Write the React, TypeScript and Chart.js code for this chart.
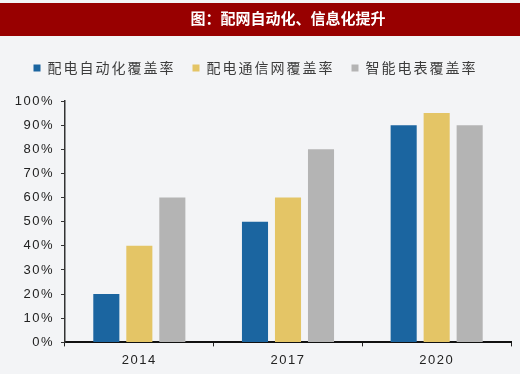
import React, { useEffect, useRef } from "react";
import { Chart, registerables } from "chart.js";

Chart.register(...registerables);

const chartTitle = "图：配网自动化、信息化提升";
const categories = ["2014", "2017", "2020"];
const seriesNames = ["配电自动化覆盖率", "配电通信网覆盖率", "智能电表覆盖率"];
const automationRate = [20, 50, 90];
const commNetworkRate = [40, 60, 95];
const smartMeterRate = [60, 80, 90];
const seriesColors = ["#1b65a0", "#e4c566", "#b4b4b4"];
const yMin = 0;
const yMax = 100;
const yStep = 10;

const BG = "#f3f4f6";
const RED = "#980000";

function patchSpacing(obj: any, method: string, spacing: string) {
  if (!obj || obj["__sp_" + method]) return;
  const orig = obj[method];
  obj[method] = function (...args: any[]) {
    const ctx = this.ctx;
    const prev = ctx.letterSpacing;
    ctx.letterSpacing = spacing;
    try {
      return orig.apply(this, args);
    } finally {
      ctx.letterSpacing = prev;
    }
  };
  obj["__sp_" + method] = true;
}

const spacingPlugin = {
  id: "letterSpacing",
  beforeLayout(chart: any) {
    patchSpacing(chart.legend, "fit", "2px");
    patchSpacing(chart.legend, "draw", "2px");
    Object.values(chart.scales || {}).forEach((s: any) => {
      patchSpacing(s, "fit", "1.5px");
      patchSpacing(s, "drawLabels", "1.5px");
    });
  },
};

const backgroundPlugin = {
  id: "bgBand",
  beforeDraw(chart: any) {
    const ctx = chart.ctx;
    ctx.save();
    ctx.fillStyle = BG;
    ctx.fillRect(0, 0, chart.width, chart.height);
    ctx.fillStyle = RED;
    const t = chart.titleBlock;
    const top = t ? t.top : 3;
    ctx.fillRect(0, top, chart.width, 33);
    ctx.restore();
  },
};

export default function App() {
  const ref = useRef<HTMLCanvasElement>(null);

  useEffect(() => {
    document.body.style.margin = "0";
    document.body.style.background = BG;
    if (!ref.current) return;
    const chart = new Chart(ref.current, {
      type: "bar",
      data: {
        labels: categories,
        datasets: [
          { label: seriesNames[0], data: automationRate, backgroundColor: seriesColors[0] },
          { label: seriesNames[1], data: commNetworkRate, backgroundColor: seriesColors[1] },
          { label: seriesNames[2], data: smartMeterRate, backgroundColor: seriesColors[2] },
        ],
      },
      options: {
        animation: false,
        responsive: false,
        devicePixelRatio: 1,
        categoryPercentage: 0.666,
        barPercentage: 0.79,
        layout: { padding: { top: 3, left: 0, right: 9, bottom: 0 } },
        plugins: {
          title: {
            display: true,
            text: chartTitle,
            color: "#ffffff",
            fullSize: false,
            font: { family: "'Noto Sans CJK SC', sans-serif", size: 15, weight: "bold" },
            padding: { top: 6, bottom: 17 },
          },
          subtitle: {
            display: true,
            text: "",
            weight: 500,
            font: { size: 10 },
            padding: { top: 0, bottom: 4 },
          } as any,
          legend: {
            display: true,
            position: "top",
            labels: {
              boxWidth: 7,
              boxHeight: 7,
              padding: 17,
              color: "#3c3c3c",
              font: { family: "'Noto Sans CJK SC', sans-serif", size: 14 },
            },
          },
          tooltip: { enabled: false },
        },
        scales: {
          x: {
            grid: {
              display: true,
              drawOnChartArea: false,
              drawTicks: true,
              tickLength: 4,
              color: "#222",
              offset: true,
            },
            border: { display: true, color: "#111", width: 2 },
            ticks: {
              color: "#222",
              padding: 6,
              font: { family: "'Liberation Sans', Arial, sans-serif", size: 13 },
            },
          },
          y: {
            min: yMin,
            max: yMax,
            afterFit: (s: any) => {
              s.width = 65;
            },
            grid: {
              display: true,
              drawOnChartArea: false,
              drawTicks: true,
              tickLength: 4,
              color: "#333",
            },
            border: { display: true, color: "#333", width: 1.5 },
            ticks: {
              stepSize: yStep,
              color: "#222",
              padding: 7,
              font: { family: "'Liberation Sans', Arial, sans-serif", size: 13 },
              callback: (v: any) => v + "%",
            },
          },
        },
      },
      plugins: [backgroundPlugin, spacingPlugin],
    });
    return () => chart.destroy();
  }, []);

  return (
    <div style={{ position: "absolute", left: 0, top: 0, width: 520, height: 374, background: BG }}>
      <canvas ref={ref} width={520} height={374} />
    </div>
  );
}
